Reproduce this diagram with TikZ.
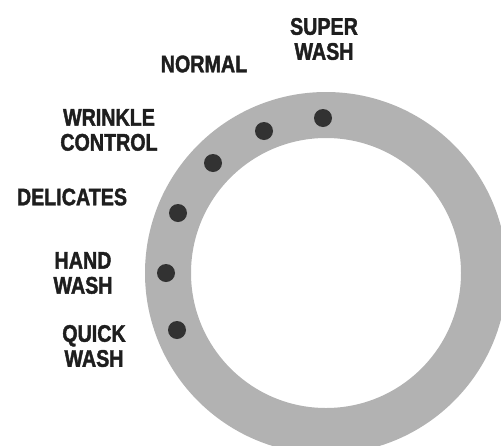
\documentclass[tikz,border=0pt]{standalone}
\usepackage{fontspec}
\newfontfamily\dialfont{Liberation Sans}[UprightFont=* Bold, FakeStretch=0.82, FakeBold=1.6]
\definecolor{ringgray}{RGB}{178,178,178}
\definecolor{dotgray}{RGB}{50,50,50}
\definecolor{txt}{RGB}{30,30,30}
\begin{document}
\begin{tikzpicture}[x=1pt,y=-1pt,
  lbl/.style={font=\dialfont\fontsize{24}{25}\selectfont, text=txt, align=center, inner sep=0pt},
  knob/.style={circle, fill=dotgray, minimum size=18pt, inner sep=0pt}]
\useasboundingbox (0,0) rectangle (501,445);
\coordinate (c) at (326,273);
\begin{scope}
\clip (0,0) rectangle (501,445);
\fill[ringgray, even odd rule] (c) circle (181pt) (c) circle (135pt);
\end{scope}
\node[knob] (d1) at (323,118) {};
\node[knob] (d2) at (264,131) {};
\node[knob] (d3) at (213,163) {};
\node[knob] (d4) at (178,213) {};
\node[knob] (d5) at (166,273) {};
\node[knob] (d6) at (177,330) {};
\node[lbl] (l1) at (324,39) {SUPER\\WASH};
\node[lbl] (l2) at (204,64) {NORMAL};
\node[lbl] (l3) at (109,130) {WRINKLE\\CONTROL};
\node[lbl] (l4) at (72,197) {DELICATES};
\node[lbl] (l5) at (83,273) {HAND\\WASH};
\node[lbl] (l6) at (94,346) {QUICK\\WASH};
\end{tikzpicture}
\end{document}
